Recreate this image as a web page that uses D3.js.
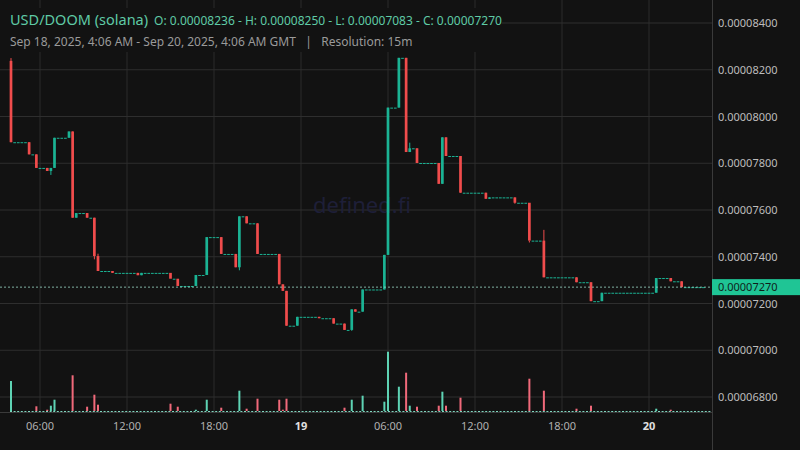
<!DOCTYPE html>
<html><head><meta charset="utf-8">
<script src="https://cdn.jsdelivr.net/npm/d3@7"></script>
<style>body{margin:0;background:#121212;}svg{display:block;font-family:"Noto Sans",sans-serif;}</style>
</head><body><svg id="c" width="800" height="450"></svg>
<script>
// prices in units of 1e-8, slot = 15 minute candle index from Sep 18 04:00 GMT
var slots  = [0,5,7,10,11,12,16,17,18,21,23,24,28,35,36,44,46,51,54,58,62,63,65,68,74,75,76,79,85,89,92,94,95,97,103,104,107,109,110,112,118,119,120,124,131,132,139,143,147,156,160,163,178,182,185];
var opens  = [8238,7890,7838,7780,7767,7780,7909,7936,7567,7587,7567,7403,7339,7331,7321,7331,7306,7275,7322,7484,7412,7355,7573,7543,7412,7282,7254,7105,7143,7137,7114,7087,7175,7165,7260,7408,8038,8251,7848,7864,7801,7712,7911,7831,7674,7648,7654,7631,7469,7312,7291,7210,7246,7309,7295];
var closes = [7890,7838,7780,7767,7780,7909,7936,7567,7587,7567,7403,7339,7331,7321,7331,7306,7275,7322,7484,7412,7355,7573,7543,7412,7282,7254,7105,7143,7137,7114,7087,7175,7165,7260,7408,8038,8251,7848,7864,7801,7712,7911,7831,7674,7648,7654,7631,7469,7312,7291,7210,7246,7309,7295,7270];
var highs  = [8250,7890,7838,7780,7780,7909,7936,7936,7587,7587,7567,7413,7339,7331,7331,7306,7275,7322,7484,7484,7412,7573,7573,7543,7412,7282,7254,7143,7143,7137,7114,7175,7175,7260,7408,8038,8251,8251,7888,7864,7801,7911,7911,7831,7674,7654,7654,7469,7515,7312,7291,7246,7309,7309,7295];
var lows   = [7890,7838,7780,7767,7750,7780,7909,7567,7567,7567,7389,7339,7331,7321,7321,7306,7275,7275,7322,7412,7355,7342,7543,7412,7282,7254,7105,7105,7137,7114,7087,7083,7165,7165,7260,7408,8038,7848,7848,7801,7712,7712,7831,7674,7648,7648,7627,7461,7312,7291,7210,7210,7246,7295,7270];
var volumes= [30,0,4.7,1.3,5.3,11.3,0,35.7,0,4.3,16.3,6.3,0,0,0,7.3,4.3,1.3,11.3,3.3,0,20.3,2.3,12.3,11.3,1.3,12.3,0,0,0,3.3,11.3,0,15.3,9.3,59.3,24.3,38.3,5.3,4.3,5.3,19.3,5.3,13.3,0,0,0,32.3,20.3,2.3,5.3,0,2.3,1.3,0];
var volUp  = [1,0,0,0,1,1,1,0,1,0,0,0,0,0,1,0,0,1,1,0,0,1,0,0,0,0,0,1,0,0,0,1,0,1,1,1,1,0,1,0,0,1,0,0,0,1,0,0,0,0,0,1,1,0,0];
var yTicks = [6800,7000,7200,7400,7600,7800,8000,8200,8400];
var lastPrice = 7270;
var nSlots = 192;

var svg = d3.select("#c");
svg.append("rect").attr("width",800).attr("height",450).attr("fill","#121212");

var t0 = Date.UTC(2025,8,18,4,0);
var x = d3.scaleUtc().domain([new Date(t0), new Date(t0 + nSlots*15*60000)]).range([11, 11 + nSlots*3.625]);
var y = d3.scaleLinear().domain([6800,8400]).range([397,23]);
var slotX = function(s){ return x(new Date(t0 + s*15*60000)); };

// grid
var xt = x.ticks(d3.utcHour.every(6));
svg.append("g").selectAll("line").data(xt).enter().append("line")
  .attr("x1",d=>x(d)).attr("x2",d=>x(d)).attr("y1",0).attr("y2",412)
  .attr("stroke","#2a2a2a");
svg.append("g").selectAll("line").data(yTicks).enter().append("line")
  .attr("x1",0).attr("x2",712).attr("y1",d=>y(d)).attr("y2",d=>y(d))
  .attr("stroke","#2e2e2e");

svg.append("text").attr("x",362).attr("y",213).attr("text-anchor","middle")
  .attr("font-size",22).attr("fill","#1e1f38").text("defined.fi");

// build all candles: flat slots keep previous close
var candles = [];
var k = 0, prev = opens[0];
for (var s = 0; s < nSlots; s++) {
  if (k < slots.length && slots[k] === s) {
    candles.push({s:s,o:opens[k],c:closes[k],h:highs[k],l:lows[k],v:volumes[k],up:volUp[k],flat:false});
    prev = closes[k]; k++;
  } else {
    candles.push({s:s,o:prev,c:prev,h:prev,l:prev,v:0,up:1,flat:true});
  }
}
var green = "#1bb394", red = "#f04c4c";

// volume
var vy = d3.scaleLinear().domain([0,60]).range([411,351]);
svg.append("line").attr("x1",10).attr("x2",712).attr("y1",411.5).attr("y2",411.5)
  .attr("stroke","#7fd6bf").attr("stroke-dasharray","2,1.6");
svg.append("g").selectAll("rect").data(candles.filter(d=>d.v>0)).enter().append("rect")
  .attr("x",d=>slotX(d.s)-1).attr("width",2)
  .attr("y",d=>vy(d.v)).attr("height",d=>411-vy(d.v))
  .attr("fill",d=>d.up?"#5ed3b4":"#f0697a");

// candles
var g = svg.append("g");
g.selectAll("line.w").data(candles.filter(d=>!d.flat)).enter().append("line")
  .attr("x1",d=>slotX(d.s)).attr("x2",d=>slotX(d.s))
  .attr("y1",d=>y(d.h)).attr("y2",d=>y(d.l))
  .attr("stroke",d=>d.c>=d.o?green:red).attr("stroke-width",1);
g.selectAll("rect").data(candles).enter().append("rect")
  .attr("x",d=>slotX(d.s)-1.35).attr("width",2.7)
  .attr("y",d=>y(Math.max(d.o,d.c)))
  .attr("height",d=>Math.max(1,y(Math.min(d.o,d.c))-y(Math.max(d.o,d.c))))
  .attr("fill",d=>d.flat||d.c>=d.o?green:red);

// last price line
svg.append("line").attr("x1",0).attr("x2",712).attr("y1",y(lastPrice)).attr("y2",y(lastPrice))
  .attr("stroke","#9ad9c8").attr("stroke-dasharray","2,2").attr("stroke-width",0.8);

// axes
svg.append("line").attr("x1",712.5).attr("x2",712.5).attr("y1",0).attr("y2",450).attr("stroke","#3a3a3a");
svg.append("line").attr("x1",0).attr("x2",712).attr("y1",412.5).attr("y2",412.5).attr("stroke","#3a3a3a");
svg.append("g").selectAll("text").data(yTicks).enter().append("text")
  .attr("x",718).attr("y",d=>y(d)+4).attr("font-size",11).attr("fill","#bdbdbd")
  .text(d=>(d/1e8).toFixed(8));
svg.append("rect").attr("x",712).attr("y",y(lastPrice)-8).attr("width",88).attr("height",16).attr("fill","#1fc595");
svg.append("text").attr("x",718).attr("y",y(lastPrice)+4).attr("font-size",11).attr("fill","#0f1f1a")
  .text((lastPrice/1e8).toFixed(8));

svg.append("g").selectAll("text").data(xt).enter().append("text")
  .attr("x",d=>x(d)).attr("y",430).attr("text-anchor","middle").attr("font-size",11)
  .attr("font-weight",d=>d.getUTCHours()===0?"bold":"normal")
  .attr("fill",d=>d.getUTCHours()===0?"#e0e0e0":"#b0b0b0")
  .text(d=>d.getUTCHours()===0?d3.utcFormat("%-d")(d):d3.utcFormat("%H:%M")(d));

// header
svg.append("rect").attr("x",0).attr("y",8).attr("width",502).attr("height",44).attr("fill","#121212");
var h = svg.append("text").attr("x",10).attr("y",25).attr("fill","#5fcaa6");
h.append("tspan").attr("font-size",14.5).text("USD/DOOM (solana)");
h.append("tspan").attr("font-size",12).attr("dx",6).text("O: 0.00008236 - H: 0.00008250 - L: 0.00007083 - C: 0.00007270");
svg.append("text").attr("x",10).attr("y",46).attr("font-size",12).attr("fill","#9a9a9a")
  .text("Sep 18, 2025, 4:06 AM - Sep 20, 2025, 4:06 AM GMT   |   Resolution: 15m").attr("xml:space","preserve");
</script></body></html>
